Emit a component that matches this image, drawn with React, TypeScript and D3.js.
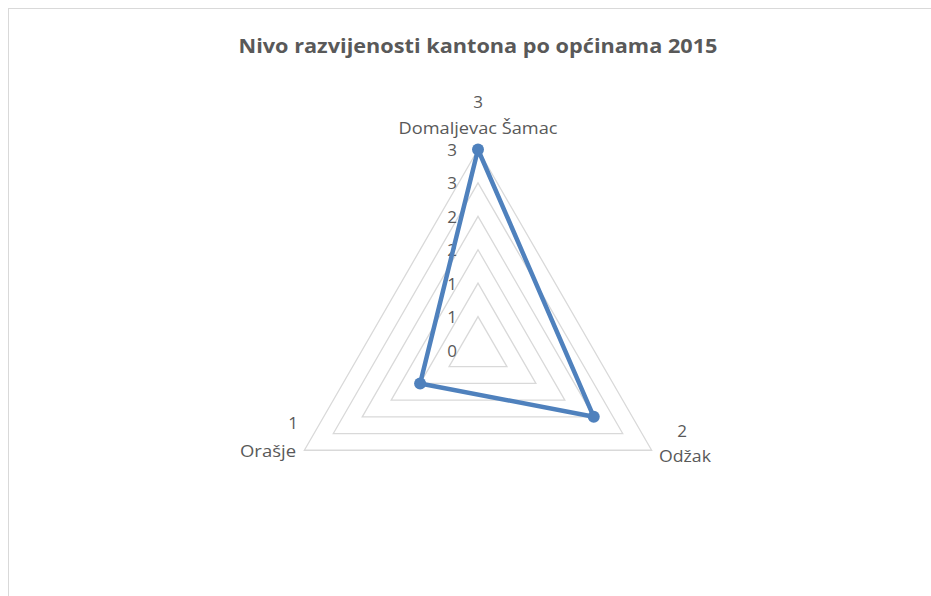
import React from "react";
import * as d3 from "d3";

const categories = ["Domaljevac Šamac", "Odžak", "Orašje"];
const values = [3, 2, 1];
const tickValues = [0, 0.5, 1, 1.5, 2, 2.5, 3];
const title = "Nivo razvijenosti kantona po općinama 2015";

const W = 931;
const H = 596;
const cx = 478;
const cy = 350;
const R = 200.5;

export default function App() {
  const r = d3.scaleLinear().domain([0, 3]).range([0, R]);
  const angle = (i: number) => (i * 2 * Math.PI) / categories.length;
  const pt = (i: number, v: number): [number, number] => [
    cx + r(v) * Math.sin(angle(i)),
    cy - r(v) * Math.cos(angle(i)),
  ];
  const lineGen = d3.line<[number, number]>().curve(d3.curveLinearClosed);
  const gridLevels = tickValues.filter((t) => t > 0);
  const seriesPts = values.map((v, i) => pt(i, v));
  const font = "'Open Sans', 'Noto Sans', sans-serif";
  const txt = "#595959";

  const labelPos = [
    { vx: cx, vy: 108, nx: cx, ny: 134, anchor: "middle", nlen: 159 },
    { vx: 682, vy: 437, nx: 659, ny: 462, anchor: "start", nlen: 52 },
    { vx: 293, vy: 429, nx: 296, ny: 457, anchor: "end", nlen: 56 },
  ];

  return (
    <svg width={W} height={H} style={{ position: "absolute", left: 0, top: 0 }}>
      <rect x={8.5} y={8.5} width={960} height={640} fill="#fff" stroke="#d9d9d9" strokeWidth={1} />
      <text x={cx} y={53} textAnchor="middle" fontFamily={font} fontWeight="bold" fontSize={20} fill={txt} textLength={479} lengthAdjust="spacingAndGlyphs">
        {title}
      </text>
      {gridLevels.map((t) => (
        <path key={t} d={lineGen(categories.map((_, i) => pt(i, t))) || ""} fill="none" stroke="#d9d9d9" strokeWidth={1.3} />
      ))}
      {tickValues.map((t) => (
        <text key={"t" + t} x={cx - 21} y={cy - r(t) + 6.5} textAnchor="end" fontFamily={font} fontSize={17} fill={txt}>
          {Math.round(t)}
        </text>
      ))}
      <path d={lineGen(seriesPts) || ""} fill="none" stroke="#4f81bd" strokeWidth={4.5} strokeLinejoin="round" />
      {seriesPts.map((p, i) => (
        <circle key={i} cx={p[0]} cy={p[1]} r={6} fill="#4f81bd" />
      ))}
      {categories.map((c, i) => (
        <g key={c}>
          <text x={labelPos[i].vx} y={labelPos[i].vy} textAnchor="middle" fontFamily={font} fontSize={17} fill={txt}>
            {values[i]}
          </text>
          <text x={labelPos[i].nx} y={labelPos[i].ny} textAnchor={labelPos[i].anchor as any} fontFamily={font} fontSize={17} fill={txt} textLength={labelPos[i].nlen} lengthAdjust="spacingAndGlyphs">
            {c}
          </text>
        </g>
      ))}
    </svg>
  );
}
